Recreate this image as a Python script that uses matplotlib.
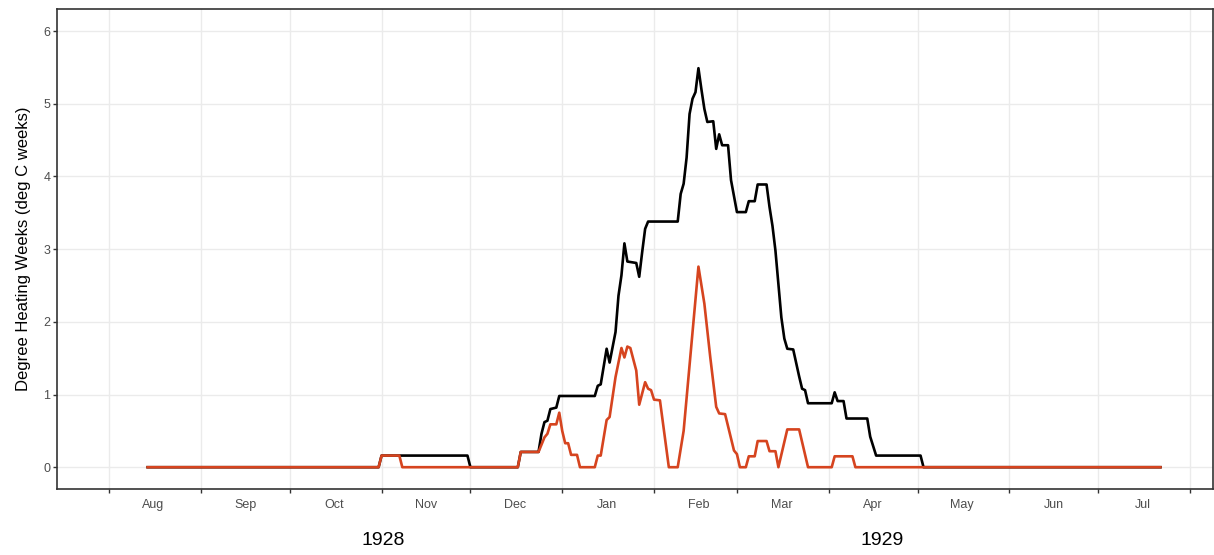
import pandas as pd
import matplotlib.pyplot as plt
import matplotlib.dates as mdates
from matplotlib.ticker import FixedLocator, NullFormatter

plt.rcParams['font.family'] = ['Liberation Sans', 'DejaVu Sans']

#-------------------------------------------------------------------------------------------------
# degree heating weeks, 1928-29 season (black = total, red = second series)

black_dates = ['1928-08-14', '1928-10-31', '1928-11-01', '1928-11-30', '1928-12-01', '1928-12-17',
               '1928-12-18', '1928-12-24', '1928-12-25', '1928-12-26', '1928-12-27', '1928-12-28',
               '1928-12-30', '1928-12-31', '1929-01-12', '1929-01-13', '1929-01-14', '1929-01-16',
               '1929-01-17', '1929-01-19', '1929-01-20', '1929-01-21', '1929-01-22', '1929-01-23',
               '1929-01-26', '1929-01-27', '1929-01-28', '1929-01-29', '1929-01-30', '1929-02-09',
               '1929-02-10', '1929-02-11', '1929-02-12', '1929-02-13', '1929-02-14', '1929-02-15',
               '1929-02-16', '1929-02-17', '1929-02-18', '1929-02-19', '1929-02-21', '1929-02-22',
               '1929-02-23', '1929-02-24', '1929-02-26', '1929-02-27', '1929-03-01', '1929-03-04',
               '1929-03-05', '1929-03-07', '1929-03-08', '1929-03-11', '1929-03-12', '1929-03-13',
               '1929-03-14', '1929-03-16', '1929-03-17', '1929-03-18', '1929-03-20', '1929-03-22',
               '1929-03-23', '1929-03-24', '1929-03-25', '1929-04-02', '1929-04-03', '1929-04-04',
               '1929-04-06', '1929-04-07', '1929-04-14', '1929-04-15', '1929-04-17', '1929-05-02',
               '1929-05-03', '1929-07-22']
black_dhw = [0, 0, 0.16, 0.16, 0, 0,
             0.21, 0.21, 0.46, 0.62, 0.64, 0.80,
             0.82, 0.98, 0.98, 1.12, 1.14, 1.63,
             1.44, 1.86, 2.36, 2.64, 3.08, 2.83,
             2.81, 2.62, 2.96, 3.28, 3.38, 3.38,
             3.76, 3.90, 4.26, 4.86, 5.07, 5.16,
             5.49, 5.20, 4.93, 4.75, 4.76, 4.38,
             4.58, 4.43, 4.43, 3.95, 3.51, 3.51,
             3.66, 3.66, 3.89, 3.89, 3.58, 3.32,
             2.98, 2.06, 1.77, 1.63, 1.62, 1.25,
             1.08, 1.06, 0.88, 0.88, 1.03, 0.91,
             0.91, 0.67, 0.67, 0.42, 0.16, 0.16,
             0, 0]

red_dates = ['1928-08-14', '1928-10-31', '1928-11-01', '1928-11-07', '1928-11-08', '1928-12-17',
             '1928-12-18', '1928-12-24', '1928-12-26', '1928-12-27', '1928-12-28', '1928-12-30',
             '1928-12-31', '1929-01-01', '1929-01-02', '1929-01-03', '1929-01-04', '1929-01-06',
             '1929-01-07', '1929-01-12', '1929-01-13', '1929-01-14', '1929-01-16', '1929-01-17',
             '1929-01-19', '1929-01-21', '1929-01-22', '1929-01-23', '1929-01-24', '1929-01-26',
             '1929-01-27', '1929-01-29', '1929-01-30', '1929-01-31', '1929-02-01', '1929-02-03',
             '1929-02-06', '1929-02-09', '1929-02-11', '1929-02-16', '1929-02-18', '1929-02-20',
             '1929-02-22', '1929-02-23', '1929-02-25', '1929-02-28', '1929-03-01', '1929-03-02',
             '1929-03-04', '1929-03-05', '1929-03-07', '1929-03-08', '1929-03-11', '1929-03-12',
             '1929-03-14', '1929-03-15', '1929-03-18', '1929-03-22', '1929-03-25', '1929-04-02',
             '1929-04-03', '1929-04-09', '1929-04-10', '1929-07-22']
red_dhw = [0, 0, 0.16, 0.16, 0, 0,
           0.21, 0.21, 0.41, 0.46, 0.59, 0.59,
           0.75, 0.50, 0.33, 0.33, 0.17, 0.17,
           0, 0, 0.16, 0.16, 0.65, 0.69,
           1.24, 1.64, 1.51, 1.66, 1.64, 1.33,
           0.86, 1.17, 1.08, 1.06, 0.93, 0.92,
           0, 0, 0.50, 2.76, 2.25, 1.51,
           0.83, 0.74, 0.73, 0.23, 0.18, 0,
           0, 0.15, 0.15, 0.36, 0.36, 0.22,
           0.22, 0, 0.52, 0.52, 0, 0,
           0.15, 0.15, 0, 0]

year_labels = ['1928', '1929']

#-------------------------------------------------------------------------------------------------

season_start = pd.Timestamp('1928-08-01')
month_starts = pd.date_range(season_start, periods=13, freq='MS')
month_mids = month_starts[:12] + pd.Timedelta(days=15)

fig = plt.figure(figsize=(12.14, 5.55), dpi=100)
ax = fig.add_axes([0.0472, 0.1189, 0.9516, 0.8643])

ax.plot(pd.to_datetime(black_dates), black_dhw, color='black', lw=1.9, zorder=3)
ax.plot(pd.to_datetime(red_dates), red_dhw, color='#D6441F', lw=1.9, zorder=4)

ax.set_xlim(season_start - pd.Timedelta(days=17.5), season_start + pd.Timedelta(days=372.6))
ax.set_ylim(-0.3, 6.3)

ax.xaxis.set_major_locator(FixedLocator(mdates.date2num(month_starts)))
ax.xaxis.set_major_formatter(NullFormatter())
ax.xaxis.set_minor_locator(FixedLocator(mdates.date2num(month_mids)))
ax.xaxis.set_minor_formatter(mdates.DateFormatter('%b'))
ax.set_yticks(range(7))

ax.tick_params(which='major', length=3, width=1, color='#333333', labelsize=9, labelcolor='#4D4D4D', pad=2)
ax.tick_params(axis='x', which='minor', length=0, labelsize=9, labelcolor='#4D4D4D', pad=7)

ax.grid(which='major', color='#EBEBEB', lw=1.0)
ax.set_axisbelow(True)
for s in ax.spines.values():
    s.set_color('#333333')
    s.set_linewidth(1.2)

ax.set_ylabel('Degree Heating Weeks (deg C weeks)', fontsize=12, color='black')
ax.yaxis.set_label_coords(-0.023, 0.5)

fig.text(0.3155, 0.027, year_labels[0], fontsize=14, ha='center', va='center')
fig.text(0.7265, 0.027, year_labels[1], fontsize=14, ha='center', va='center')

fig.savefig('out.png', dpi=100)
